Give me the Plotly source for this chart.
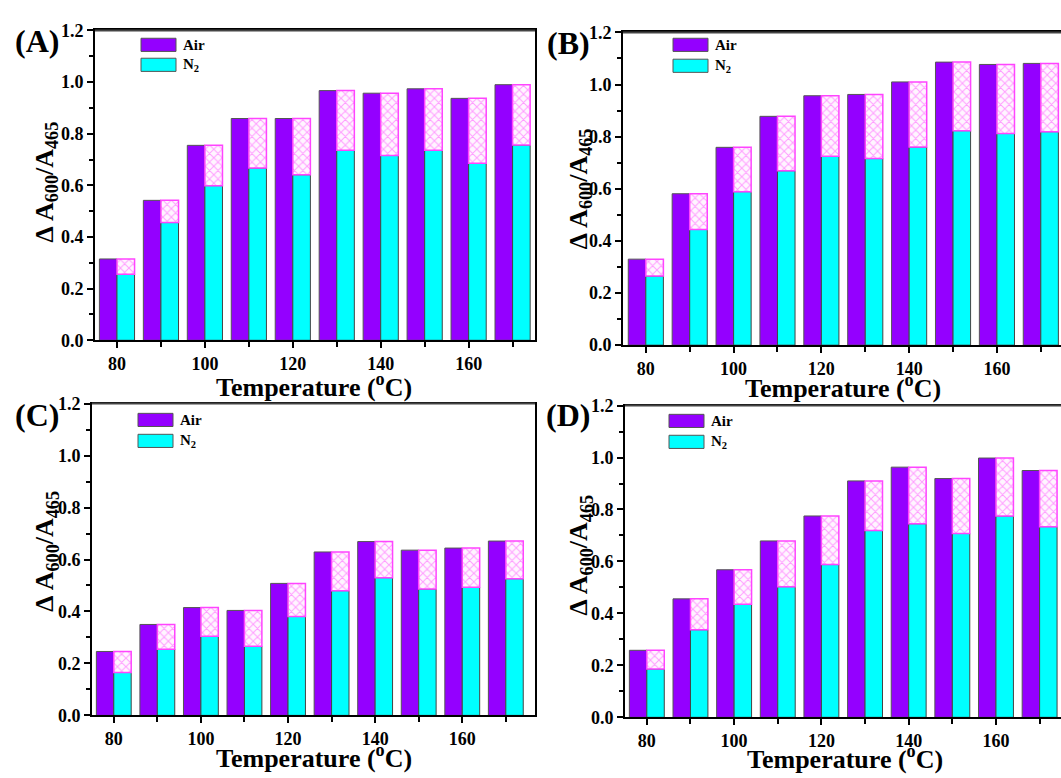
import plotly.graph_objects as go
import numpy as np

W, H = 1061, 778

temps = [80, 90, 100, 110, 120, 130, 140, 150, 160, 170]

air_A = [0.315, 0.542, 0.755, 0.859, 0.859, 0.967, 0.957, 0.974, 0.937, 0.990]
n2_A = [0.256, 0.456, 0.599, 0.667, 0.641, 0.736, 0.716, 0.736, 0.686, 0.756]

air_B = [0.330, 0.581, 0.759, 0.878, 0.957, 0.962, 1.010, 1.086, 1.077, 1.081]
n2_B = [0.265, 0.444, 0.589, 0.669, 0.725, 0.716, 0.760, 0.823, 0.812, 0.819]

air_C = [0.246, 0.350, 0.415, 0.404, 0.508, 0.629, 0.669, 0.636, 0.644, 0.671]
n2_C = [0.165, 0.255, 0.305, 0.266, 0.381, 0.480, 0.530, 0.486, 0.493, 0.526]

air_D = [0.258, 0.456, 0.568, 0.679, 0.775, 0.910, 0.963, 0.919, 0.998, 0.950]
n2_D = [0.186, 0.337, 0.435, 0.503, 0.588, 0.719, 0.745, 0.708, 0.775, 0.734]

panel_labels = ["(A)", "(B)", "(C)", "(D)"]
series_names = ["Air", "N<sub>2</sub>"]
x_title = "Temperature (<sup>o</sup>C)"
y_title = "Δ A<sub>600</sub>/A<sub>465</sub>"

PURPLE = "#9400FF"
CYAN = "#00FFFF"
MAGENTA = "#FF44FF"
FONT = "Liberation Serif"

# pixel layout of each panel: (left, right, top, bottom), x range
panels = [
    dict(air=air_A, n2=n2_A, l=95, r=535, t=21, b=339, xr=[75, 175.1], right=True,
         lab=(37, 32), leg=(141, 176, 29, 63), xt=(314, 385), yt=(46, 177)),
    dict(air=air_B, n2=n2_B, l=623, r=1061, t=23, b=344, xr=[74.8, 174.6], right=False,
         lab=(568, 34), leg=(673, 708, 29, 64), xt=(843, 386), yt=(580, 184)),
    dict(air=air_C, n2=n2_C, l=92, r=535, t=404, b=724, xr=[75, 176.7], right=True,
         lab=(37, 416), leg=(138, 173, 414, 449), xt=(314, 766), yt=(46, 556)),
    dict(air=air_D, n2=n2_D, l=625, r=1061, t=406, b=726, xr=[75, 174.9], right=False,
         lab=(568, 416), leg=(669, 704, 415, 450), xt=(845, 767), yt=(580, 560)),
]


def px(x):
    return x / W


def py(y):
    return 1 - y / H


fig = go.Figure()
shapes = []
annotations = []

for i, p in enumerate(panels):
    k = "" if i == 0 else str(i + 1)
    xa, ya = "x" + k, "y" + k
    air = np.array(p["air"])
    n2 = np.array(p["n2"])
    fig.add_trace(go.Bar(x=temps, y=air, offset=-4, width=4, xaxis=xa, yaxis=ya,
                         marker=dict(color=PURPLE, line=dict(color="#555555", width=1)),
                         name="Air", showlegend=False))
    fig.add_trace(go.Bar(x=temps, y=n2, offset=0, width=4, xaxis=xa, yaxis=ya,
                         marker=dict(color=CYAN, line=dict(color="#444444", width=1)),
                         name="N2", showlegend=False))
    fig.add_trace(go.Bar(x=temps, y=air - n2, base=n2, offset=0, width=4, xaxis=xa, yaxis=ya,
                         marker=dict(color="white", line=dict(color=MAGENTA, width=1.5),
                                     pattern=dict(shape="x", fgcolor="#FF44FF", bgcolor="#FFF5FF",
                                                  size=6, solidity=0.3)),
                         name="Air-N2", showlegend=False))

    axis_common = dict(showline=True, linecolor="black", linewidth=2, ticks="outside",
                       ticklen=6, tickwidth=1.5, tickcolor="black", showgrid=False, zeroline=False,
                       tickfont=dict(family=FONT, size=18, color="black", weight="bold"))
    fig.layout["xaxis" + k] = dict(
        axis_common, domain=[px(p["l"]), px(p["r"])], range=p["xr"], anchor=ya,
        tickmode="array", tickvals=[80, 100, 120, 140, 160],
        minor=dict(tickvals=[90, 110, 130, 150, 170], ticklen=5, tickwidth=1.5,
                   tickcolor="black", ticks="outside"),
        mirror=True)
    fig.layout["yaxis" + k] = dict(
        axis_common, domain=[py(p["b"]), py(p["t"])], range=[0, 1.2], anchor=xa,
        tickmode="array", tickvals=[0, 0.2, 0.4, 0.6, 0.8, 1.0, 1.2],
        ticktext=["0.0", "0.2", "0.4", "0.6", "0.8", "1.0", "1.2"],
        minor=dict(tickvals=[0.1, 0.3, 0.5, 0.7, 0.9, 1.1], ticklen=4, tickwidth=1.5,
                   tickcolor="black", ticks="outside"),
        mirror=p["right"])

    # top frame (gray)
    shapes.append(dict(type="line", xref=xa + " domain", yref=ya + " domain",
                       x0=0, x1=1, y0=1, y1=1, line=dict(color="#444444", width=2)))

    # legend swatches
    lx0, lx1, ly0, ly1 = p["leg"]
    hgt = (ly1 - ly0)
    sw = 13.5
    for j, col in enumerate([PURPLE, CYAN]):
        top = ly0 + j * (hgt - sw)
        shapes.append(dict(type="rect", xref="paper", yref="paper",
                           x0=px(lx0), x1=px(lx1), y0=py(top + sw), y1=py(top),
                           fillcolor=col, line=dict(color="#555555", width=1)))
        annotations.append(dict(text="<b>" + series_names[j] + "</b>", xref="paper", yref="paper",
                                x=px(lx1 + 5), y=py(top + sw / 2), xanchor="left", yanchor="middle",
                                showarrow=False,
                                font=dict(family=FONT, size=15, color="black")))

    annotations.append(dict(text="<b>" + panel_labels[i] + "</b>", xref="paper", yref="paper",
                            x=px(p["lab"][0]), y=py(p["lab"][1]), xanchor="center", yanchor="middle",
                            showarrow=False, font=dict(family=FONT, size=32, color="black")))
    # axis titles
    annotations.append(dict(text="<b>" + x_title + "</b>", xref="paper", yref="paper",
                            x=px(p["xt"][0]), y=py(p["xt"][1]), xanchor="center", yanchor="middle",
                            showarrow=False, font=dict(family=FONT, size=26, color="black")))
    annotations.append(dict(text="<b>" + y_title + "</b>", xref="paper", yref="paper",
                            x=px(p["yt"][0]), y=py(p["yt"][1]), xanchor="center", yanchor="middle",
                            textangle=-90, showarrow=False,
                            font=dict(family=FONT, size=26, color="black")))

fig.update_layout(width=W, height=H, margin=dict(l=0, r=0, t=0, b=0),
                  paper_bgcolor="white", plot_bgcolor="white", barmode="overlay",
                  showlegend=False, shapes=shapes, annotations=annotations)

fig.write_html("out.html", config={"displayModeBar": False},
               post_script="document.body.style.margin='0';document.body.style.padding='0';")
